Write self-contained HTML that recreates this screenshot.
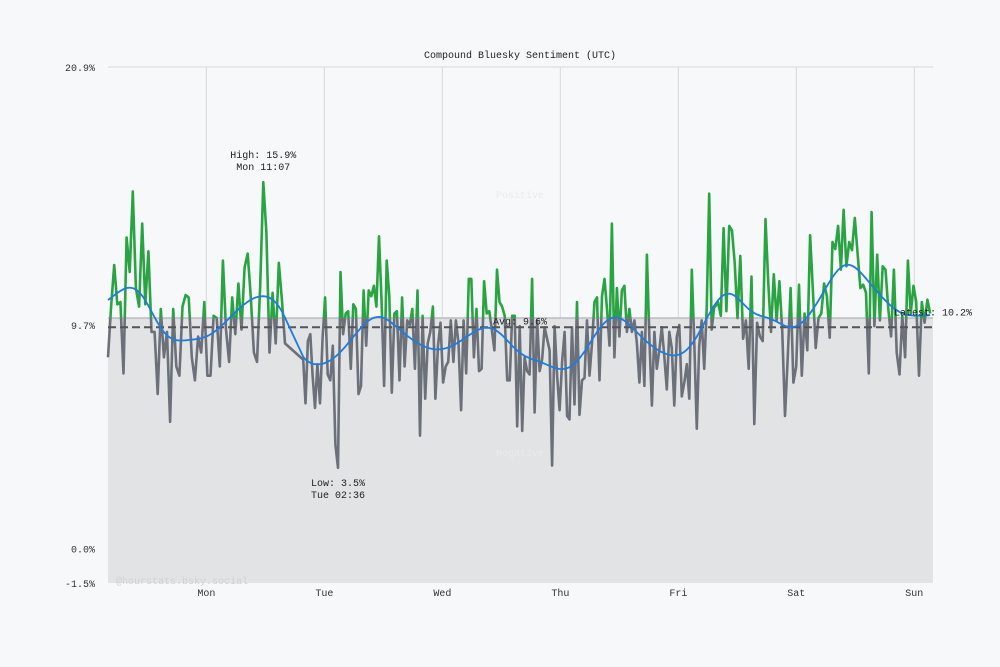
<!DOCTYPE html>
<html><head><meta charset="utf-8"><style>
html,body{margin:0;padding:0;background:#f6f8fa;}
svg{display:block;font-family:"Liberation Mono","DejaVu Sans Mono",monospace;}
</style></head><body>
<svg id="chart" width="1000" height="667" viewBox="0 0 1000 667" xmlns="http://www.w3.org/2000/svg">
<rect x="0" y="0" width="1000" height="667" fill="#f6f8fa"/>
<text x="520" y="58" font-size="10" text-anchor="middle" fill="#222">Compound Bluesky Sentiment (UTC)</text>
<g id="grid"></g>
<g id="bands"></g>
<g id="series"></g>
<g id="labels"></g>
</svg>
<script>
const yTicks = [20.9, 9.7, 0.0, -1.5];
const yTickLabels = ["20.9%", "9.7%", "0.0%", "-1.5%"];
const dayLabels = ["Mon","Tue","Wed","Thu","Fri","Sat","Sun"];
const dayHours = [20, 44, 68, 92, 116, 140, 164];
const hourRange = [0, 167.8];
const threshold = 10.0;
const avgValue = 9.6;
const latestValue = 10.2;
const highValue = 15.9;
const lowValue = 3.5;
// segments of roughly evenly spaced samples (start hour, end hour, sample count)
const segStartHours = [0, 39.7, 42.6, 81.7, 123.5];
const segEndHours = [36.0, 42.1, 81.2, 123.3, 167.8];
const segCounts = [58, 6, 75, 83, 79];
const values = [
8.3,10.5,12.3,10.6,10.7,7.6,13.5,12.0,15.5,11.3,10.5,14.1,10.6,12.9,9.4,9.4,6.7,10.4,8.3,9.4,5.5,10.4,7.9,7.5,10.5,11.0,10.9,8.3,7.3,9.2,8.5,10.7,7.5,7.5,10.1,10.0,7.9,12.5,9.5,8.1,10.9,9.3,11.5,9.5,12.2,12.8,10.9,8.5,8.1,11.4,15.9,13.7,8.5,11.1,8.9,12.4,10.8,8.9,
8.2,6.3,9.0,9.3,7.5,6.1,
8.0,6.3,9.15,10.9,7.55,7.3,8.8,4.5,3.5,12.0,9.3,10.2,10.3,7.8,10.6,10.4,6.7,7.05,11.2,8.8,11.2,10.95,11.4,10.5,13.55,10.7,7.05,12.5,10.95,6.76,10.2,10.3,7.3,10.9,7.9,9.9,9.7,10.4,7.8,11.2,4.9,10.1,6.5,8.9,9.4,10.5,6.5,8.8,9.8,7.2,7.9,8.1,9.9,8.1,9.9,8.9,6.0,9.9,7.6,11.7,11.7,8.3,10.4,7.7,7.8,11.6,10.2,10.3,9.5,8.6,12.1,10.7,10.5,10.1,7.3,
7.3,10.1,10.1,5.3,9.65,5.1,8.3,7.7,7.55,11.7,5.9,9.9,7.7,8.2,9.6,9.1,8.6,3.6,9.65,7.5,6.0,8.1,9.4,5.75,5.6,9.6,6.25,10.7,5.8,7.3,7.4,9.9,7.5,8.9,10.7,10.9,7.3,10.95,11.7,10.4,8.8,14.1,8.3,11.3,9.2,11.2,11.4,9.4,10.4,9.4,9.9,8.9,7.2,9.4,7.05,12.75,9.1,6.2,9.4,7.8,8.6,9.6,8.35,6.9,9.4,8.7,6.2,9.2,9.7,6.6,7.2,8.0,6.5,12.1,8.9,5.2,8.8,9.9,7.8,10.4,15.4,9.5,10.5,
10.5,10.7,10.1,13.9,10.3,14.0,13.8,12.4,10.0,12.7,9.1,9.9,7.8,11.8,5.4,9.8,9.2,9.0,14.3,11.5,9.4,11.9,9.9,11.6,9.5,5.75,8.35,11.3,7.2,7.9,11.45,7.5,10.2,8.6,13.6,11.2,8.7,10.0,10.2,11.5,10.95,9.15,13.3,13.0,14.0,12.1,14.7,12.25,13.3,12.95,14.35,12.8,11.3,11.45,11.1,7.6,14.6,9.65,12.75,9.9,12.25,12.1,10.4,9.2,12.1,8.5,7.55,10.1,8.3,12.5,10.2,11.4,10.7,7.5,10.7,9.8,10.8,10.2
];

const NS = "http://www.w3.org/2000/svg";
const X0 = 108, X1 = 933, Y0 = 67, Y1 = 583;
const vMin = -1.5, vMax = 20.9;
function xScale(h){ return X0 + (X1 - X0) * (h - hourRange[0]) / (hourRange[1] - hourRange[0]); }
function yScale(v){ return Y1 - (v - vMin) / (vMax - vMin) * (Y1 - Y0); }
function mk(tag, attrs, parent){ const e = document.createElementNS(NS, tag); for (const k in attrs) e.setAttribute(k, attrs[k]); parent.appendChild(e); return e; }

// hour of each sample, from segments
const hours = [];
segCounts.forEach((c, s) => {
  for (let k = 0; k < c; k++) hours.push(segStartHours[s] + (segEndHours[s] - segStartHours[s]) * (c > 1 ? k / (c - 1) : 0));
});
while (hours.length < values.length) hours.push(hourRange[1]);

const grid = document.getElementById('grid');
const bands = document.getElementById('bands');
const series = document.getElementById('series');
const labels = document.getElementById('labels');

const band = mk('rect', {x:X0, y:yScale(threshold), width:X1-X0, height:Y1-yScale(threshold), fill:'#e2e3e5'}, bands);


const tl = mk('line', {x1:X0, x2:X1, y1:yScale(threshold), y2:yScale(threshold), stroke:'#c4c5c8', 'stroke-width':2}, bands);



yTicks.forEach((t, k) => {
  const y = yScale(t);
  if (t === 20.9 || t === 0) {
    const g = mk('line', {x1:X0, x2:X1, y1:y, y2:y, stroke:'#d6d8db', 'stroke-width':1}, grid);
    
    
  }
  const tx = mk('text', {x:95, y:y+4, 'font-size':10, 'text-anchor':'end', fill:'#333'}, labels);
  tx.textContent = yTickLabels[k];
  
  
});
dayLabels.forEach((d, k) => {
  const x = xScale(dayHours[k]);
  const g = mk('line', {x1:x, x2:x, y1:Y0, y2:Y1, stroke:'#d6d8db', 'stroke-width':1}, grid);
  
  
  const tx = mk('text', {x:x, y:596, 'font-size':10, 'text-anchor':'middle', fill:'#333'}, labels);
  tx.textContent = d;
  
  
});

const wm1 = mk('text', {x:520, y:198, 'font-size':10, 'text-anchor':'middle', fill:'#e8ecef'}, labels);
wm1.textContent = 'Positive';


const wm2 = mk('text', {x:520, y:456, 'font-size':10, 'text-anchor':'middle', fill:'#e9eaec'}, labels);
wm2.textContent = 'Negative';


const wm3 = mk('text', {x:116, y:584, 'font-size':10, fill:'#cfd1d4'}, labels);
wm3.textContent = '@hourstats.bsky.social';



const defs = mk('defs', {}, series);
const cpA = mk('clipPath', {id:'above'}, defs);
mk('rect', {x:0, y:0, width:1000, height:yScale(threshold)}, cpA);
const cpB = mk('clipPath', {id:'below'}, defs);
mk('rect', {x:0, y:yScale(threshold), width:1000, height:667}, cpB);

const pts = values.map((v, i) => xScale(hours[i]).toFixed(1) + ',' + yScale(v).toFixed(1)).join(' ');
const gl = mk('polyline', {points:pts, fill:'none', stroke:'#6b7079', 'stroke-width':2.6, 'stroke-linejoin':'round', 'clip-path':'url(#below)'}, series);


const gr = mk('polyline', {points:pts, fill:'none', stroke:'#2aa443', 'stroke-width':2.6, 'stroke-linejoin':'round', 'clip-path':'url(#above)'}, series);



const av = mk('line', {x1:X0, x2:X1, y1:yScale(avgValue), y2:yScale(avgValue), stroke:'#555', 'stroke-width':2, 'stroke-dasharray':'8,4'}, series);



const sigma = 3.2;
const sm = values.map((v, i) => {
  let s = 0, w = 0;
  for (let k = 0; k < values.length; k++) {
    const dt = hours[k] - hours[i];
    if (Math.abs(dt) > 4 * sigma) continue;
    const ww = Math.exp(-(dt*dt)/(2*sigma*sigma)); s += values[k]*ww; w += ww;
  }
  return s / w;
});
const spts = sm.map((v, i) => xScale(hours[i]).toFixed(1) + ',' + yScale(v).toFixed(1)).join(' ');
const tr = mk('polyline', {points:spts, fill:'none', stroke:'#1f7be0', 'stroke-width':1.8}, series);



function ann(lines, x, y, name, anchor){
  const t = mk('text', {x:x, y:y, 'font-size':10, 'text-anchor':anchor||'middle', fill:'#222'}, labels);
  
  
  lines.forEach((l, k) => { const s = mk('tspan', {x:x, dy:k ? 12 : 0}, t); s.textContent = l; });
}
const hi = values.indexOf(highValue);
ann(['High: ' + highValue.toFixed(1) + '%', 'Mon 11:07'], xScale(hours[hi]), yScale(highValue) - 24, 'high-annotation');
const lo = values.indexOf(lowValue);
ann(['Low: ' + lowValue.toFixed(1) + '%', 'Tue 02:36'], xScale(hours[lo]), yScale(lowValue) + 18, 'low-annotation');
ann(['Avg: ' + avgValue.toFixed(1) + '%'], 493, yScale(avgValue) - 3, 'average-label', 'start');
ann(['Latest: ' + latestValue.toFixed(1) + '%'], 894, yScale(latestValue) + 2, 'latest-label', 'start');
</script>
</body></html>
